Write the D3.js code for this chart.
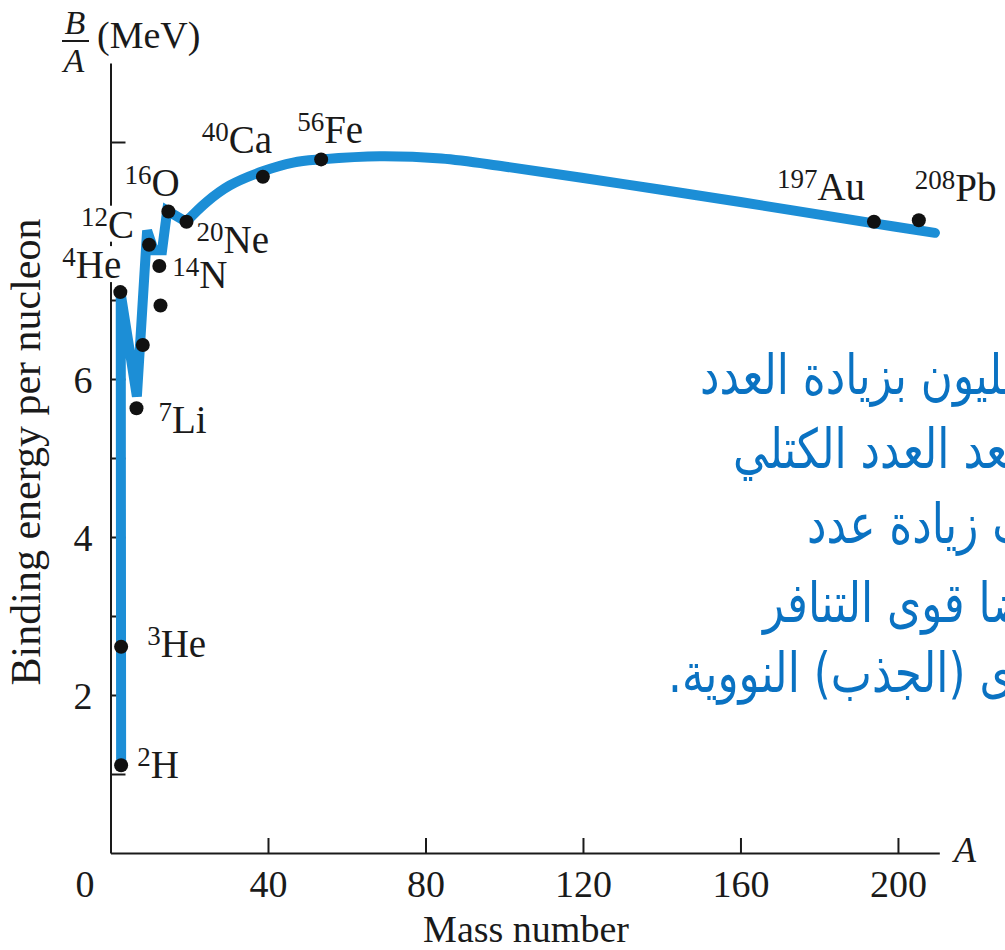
<!DOCTYPE html>
<html>
<head>
<meta charset="utf-8">
<script src="https://cdn.jsdelivr.net/npm/d3@7"></script>
<style>
  body { margin: 0; background: #fff; }
  svg { display: block; }
</style>
</head>
<body>
<div id="chart"></div>
<script>
// nuclei marked on the chart (mass number A as drawn, B/A in MeV)
var isoMass = [2, 3, 4, 7, 9, 11, 12, 14, 16, 20, 40, 56, 197, 208];
var isoSymbol = ["H", "He", "He", "Li", "Be", "B", "C", "N", "O", "Ne", "Ca", "Fe", "Au", "Pb"];
var isoA = [2.7, 2.7, 2.5, 6.6, 8.2, 12.7, 9.8, 12.4, 14.7, 19.3, 38.7, 53.5, 193.9, 205.3];
var isoB = [1.11, 2.61, 7.10, 5.63, 6.43, 6.93, 7.70, 7.43, 8.12, 7.99, 8.56, 8.78, 7.99, 8.01];
var isoLabelled = [true, true, true, true, false, false, true, true, true, true, true, true, true, true];

// thick curve, light nuclei (straight pieces)
var lowA = [2.7, 2.6, 6.7, 9.3, 11.0, 13.1, 14.4, 19.2];
var lowB = [1.10, 7.08, 5.78, 7.88, 7.63, 7.63, 8.13, 7.99];
// thick curve, smooth part
var highA = [19.2, 24.4, 30.3, 38.7, 46.4, 53.6, 68.4, 84.0, 100.0, 130.0, 160.0, 193.9, 209.4];
var highB = [7.99, 8.24, 8.45, 8.63, 8.74, 8.78, 8.82, 8.79, 8.69, 8.47, 8.24, 7.97, 7.85];

// axes
var xTicks = [0, 40, 80, 120, 160, 200];
var yTicks = [1, 2, 3, 4, 5, 6, 7, 8, 9];
var yTickLabels = [2, 4, 6];

// arabic note (clipped by the right edge like the slide)
var noteLines = [
  "تقل طاقة الربط لكل نيوكليون بزيادة العدد",
  "الكتلي وذلك بعد العدد الكتلي",
  "البروتونات بسبب زيادة عدد",
  "وتزداد أيضا قوى التنافر",
  "مقارنة بقوى (الجذب) النووية."
];

var width = 1005, height = 950;
var serif = "'Liberation Serif', 'DejaVu Serif', serif";
var ink = "#1a1a1a";
var blue = "#1c8ed6";

var svg = d3.select("#chart").append("svg")
  .attr("width", width)
  .attr("height", height);
svg.append("rect").attr("width", width).attr("height", height).attr("fill", "#fff");

var x = d3.scaleLinear().domain([0, 210.5]).range([110.5, 939.3]);
var y = d3.scaleLinear().domain([0, 10]).range([853, 63]);

// x axis, ticks pointing up
var gx = svg.append("g")
  .attr("transform", "translate(0," + y(0) + ")")
  .call(d3.axisBottom(x).tickValues(xTicks).tickSizeInner(-15).tickSizeOuter(0).tickPadding(17));
gx.selectAll(".tick").filter(function(d) { return d === 0; }).select("line").remove();
gx.selectAll(".tick").filter(function(d) { return d === 0; }).select("text").attr("x", -26);

// y axis, ticks pointing right
var gy = svg.append("g")
  .attr("transform", "translate(" + x(0) + ",0)")
  .call(d3.axisRight(y).tickValues(yTicks).tickSize(15).tickSizeOuter(0)
    .tickFormat(function(d) { return yTickLabels.indexOf(d) >= 0 ? d : ""; }));
gy.selectAll("text").attr("x", -18).attr("text-anchor", "end").attr("dy", "0.35em");

[gx, gy].forEach(function(g) {
  g.attr("font-family", serif).attr("font-size", 38);
  g.select(".domain").attr("stroke", ink).attr("stroke-width", 2);
  g.selectAll(".tick line").attr("stroke", ink).attr("stroke-width", 2);
  g.selectAll(".tick text").attr("fill", ink);
});

// axis titles
svg.append("text")
  .attr("x", 526).attr("y", 942)
  .attr("text-anchor", "middle")
  .attr("font-family", serif).attr("font-size", 38).attr("fill", ink)
  .text("Mass number");

svg.append("text")
  .attr("transform", "translate(40,452) rotate(-90)")
  .attr("text-anchor", "middle")
  .attr("font-family", serif).attr("font-size", 42).attr("fill", ink)
  .text("Binding energy per nucleon");

svg.append("text")
  .attr("x", 954).attr("y", 862)
  .attr("font-family", serif).attr("font-style", "italic").attr("font-size", 36).attr("fill", ink)
  .text("A");

// B/A (MeV)
var ba = svg.append("g").attr("font-family", serif).attr("fill", ink);
ba.append("text").attr("x", 75).attr("y", 34).attr("text-anchor", "middle")
  .attr("font-style", "italic").attr("font-size", 34).text("B");
ba.append("line").attr("x1", 62).attr("x2", 89).attr("y1", 41).attr("y2", 41)
  .attr("stroke", ink).attr("stroke-width", 2);
ba.append("text").attr("x", 74).attr("y", 72).attr("text-anchor", "middle")
  .attr("font-style", "italic").attr("font-size", 34).text("A");
ba.append("text").attr("x", 97).attr("y", 48)
  .attr("font-size", 38).text("(MeV)");

// the thick blue curve
var lowLine = d3.line()
  .x(function(d, i) { return x(lowA[i]); })
  .y(function(d, i) { return y(lowB[i]); });
var highLine = d3.line()
  .curve(d3.curveCatmullRom.alpha(0.5))
  .x(function(d, i) { return x(highA[i]); })
  .y(function(d, i) { return y(highB[i]); });

svg.append("path")
  .attr("d", lowLine(lowA))
  .attr("fill", "none").attr("stroke", blue).attr("stroke-width", 10)
  .attr("stroke-linejoin", "miter").attr("stroke-linecap", "round");
svg.append("path")
  .attr("d", highLine(highA))
  .attr("fill", "none").attr("stroke", blue).attr("stroke-width", 10)
  .attr("stroke-linecap", "round");

// label offsets from the dot (start of superscript, baseline of symbol)
var labelOffset = {
  "2H": [16, 13], "3He": [26, 10], "4He": [-58, -14], "7Li": [22, 25],
  "12C": [-68, -7], "14N": [13, 22], "16O": [-44, -16], "20Ne": [10, 31],
  "40Ca": [-61, -24], "56Fe": [-24, -16], "197Au": [-97, -22], "208Pb": [-4, -19]
};

var labelLayer = svg.append("g");
isoMass.forEach(function(m, i) {
  if (!isoLabelled[i]) return;
  var key = m + isoSymbol[i];
  var off = labelOffset[key];
  var g = labelLayer.append("g");
  var t = g.append("text")
    .attr("x", x(isoA[i]) + off[0])
    .attr("y", y(isoB[i]) + off[1])
    .attr("font-family", serif).attr("fill", ink);
  t.append("tspan").attr("font-size", 27).attr("dy", -12).text(m);
  t.append("tspan").attr("font-size", 39).attr("dy", 12).text(isoSymbol[i]);
  var bb = t.node().getBBox();
  // labels sitting on the y axis hide it, as in the figure
  if (bb.x < x(0)) {
    g.insert("rect", "text")
      .attr("x", bb.x).attr("y", bb.y + 4).attr("width", bb.width).attr("height", bb.height - 8)
      .attr("fill", "#fff");
  }
});

// dots
svg.append("g").selectAll("circle")
  .data(isoMass)
  .join("circle")
  .attr("cx", function(d, i) { return x(isoA[i]); })
  .attr("cy", function(d, i) { return y(isoB[i]); })
  .attr("r", 7)
  .attr("fill", "#111");

// arabic note, left ends measured from the slide
var noteLeft = [700, 733, 807, 763, 668];
var noteBase = [394, 468, 543, 622, 692];
var note = svg.append("g")
  .attr("font-family", "'DejaVu Sans', sans-serif")
  .attr("fill", "#0a72c2")
  .attr("direction", "rtl")
  .attr("text-anchor", "end");

// fit the size so "بزيادة العدد" spans about 207px like in the slide
var probe = note.append("text").attr("font-size", 40).text("بزيادة العدد");
var noteSize = 40 * 207 / probe.node().getComputedTextLength();
probe.remove();

// the slide font is taller than DejaVu for the same width
note.selectAll("text")
  .data(noteLines)
  .join("text")
  .attr("transform", function(d, i) { return "translate(" + noteLeft[i] + "," + noteBase[i] + ") scale(1,1.25)"; })
  .attr("font-size", noteSize)
  .text(function(d) { return d; });
</script>
</body>
</html>
